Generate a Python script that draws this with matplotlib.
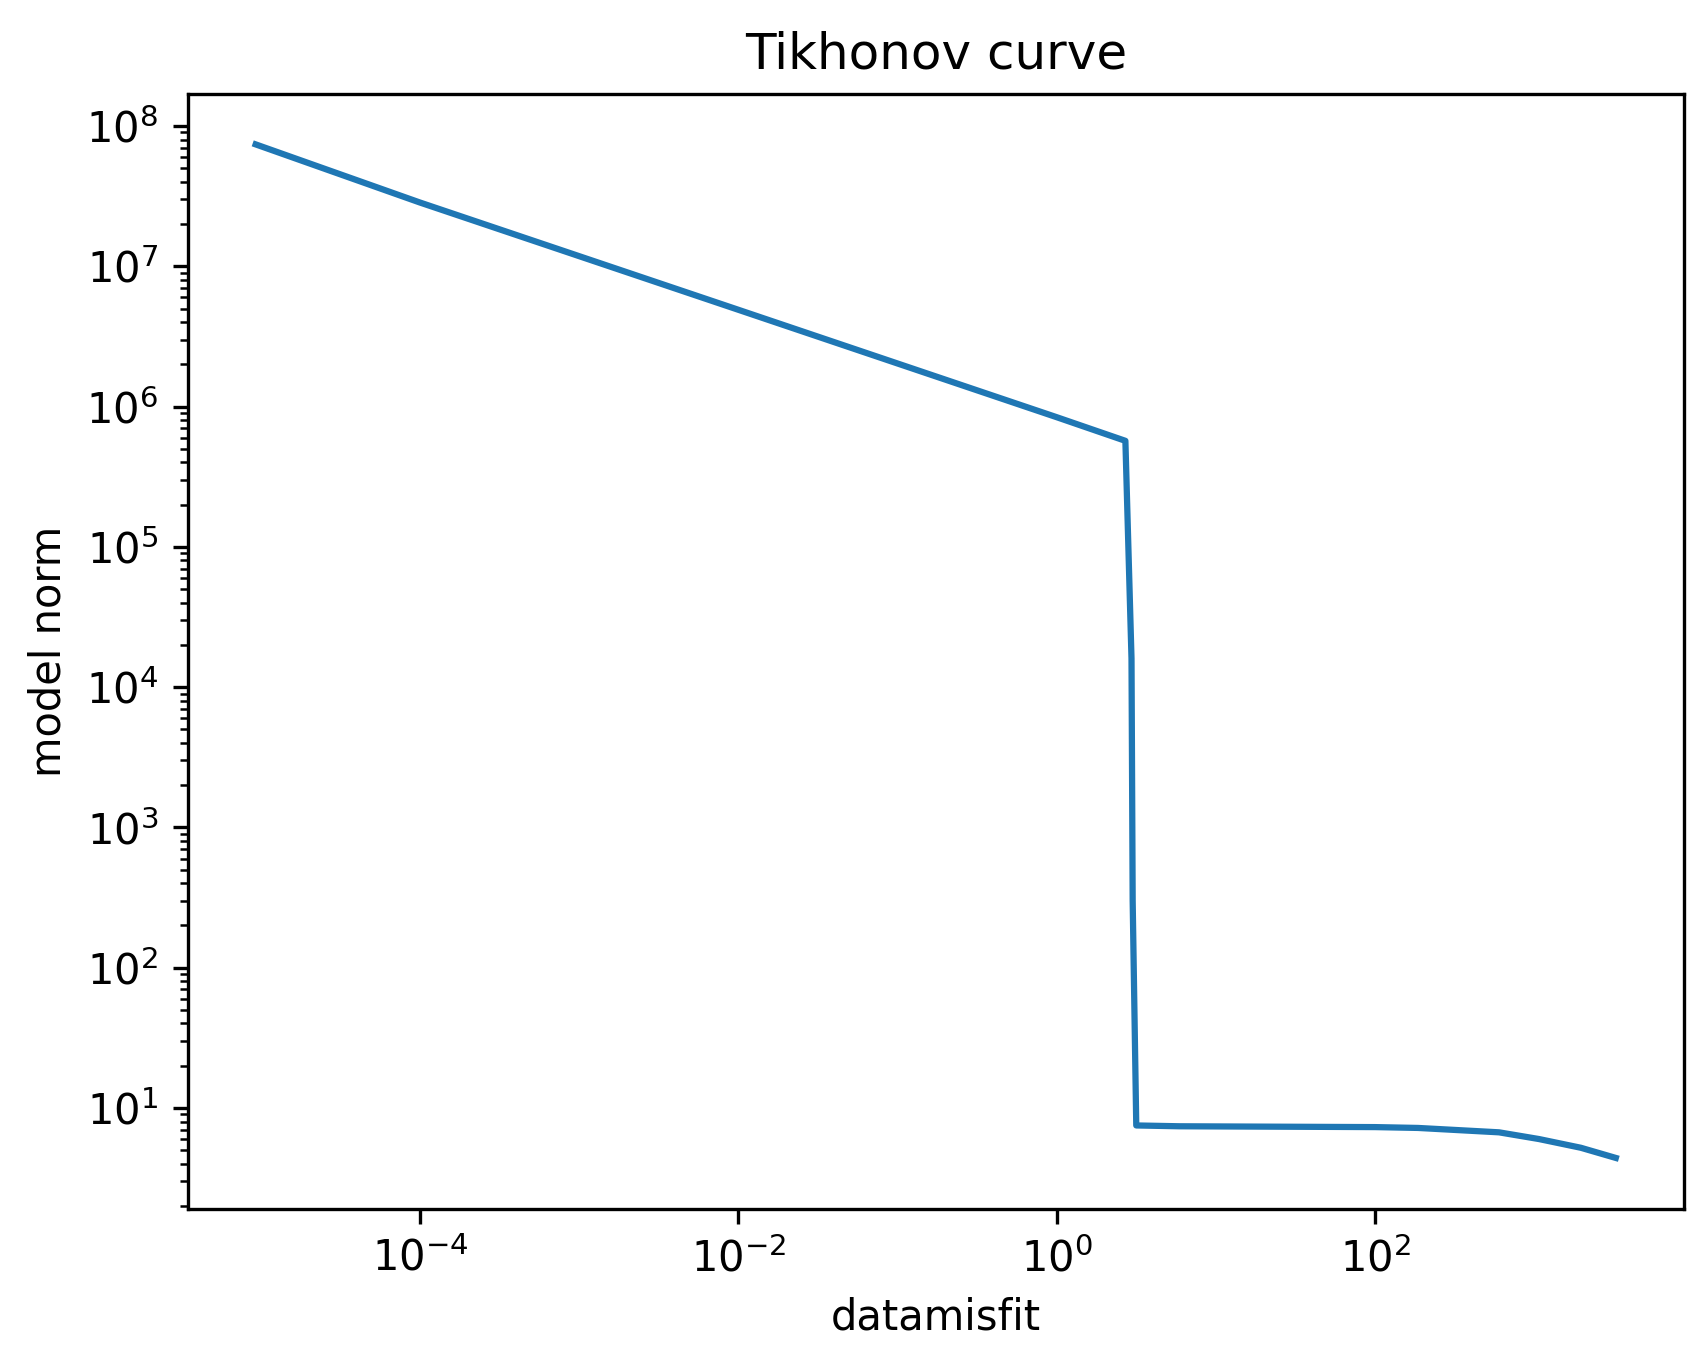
import matplotlib
matplotlib.use("Agg")
import matplotlib.pyplot as plt
from matplotlib.ticker import FixedLocator, NullLocator

datamisfit = [9.3e-6, 1e-4, 1e-2, 1.0, 2.7, 2.95, 3.0, 3.16, 5.9, 100, 186, 600, 1070, 1960, 3250]
model_norm = [7.4e7, 2.85e7, 4.9e6, 8.4e5, 5.7e5, 1.6e4, 300, 7.5, 7.4, 7.3, 7.2, 6.7, 6.0, 5.2, 4.4]
x_ticks = [1e-4, 1e-2, 1e0, 1e2]

fig = plt.figure(figsize=(1706/300, 1358/300), dpi=300)
ax = fig.add_axes([0.110, 0.110, 0.877, 0.821])
ax.plot(datamisfit, model_norm)
ax.set_xscale("log")
ax.set_yscale("log")
ax.xaxis.set_major_locator(FixedLocator(x_ticks))
ax.xaxis.set_minor_locator(NullLocator())
ax.set_xlabel("datamisfit")
ax.set_ylabel("model norm")
ax.set_title("Tikhonov curve")
fig.savefig("out.png", dpi=300)
